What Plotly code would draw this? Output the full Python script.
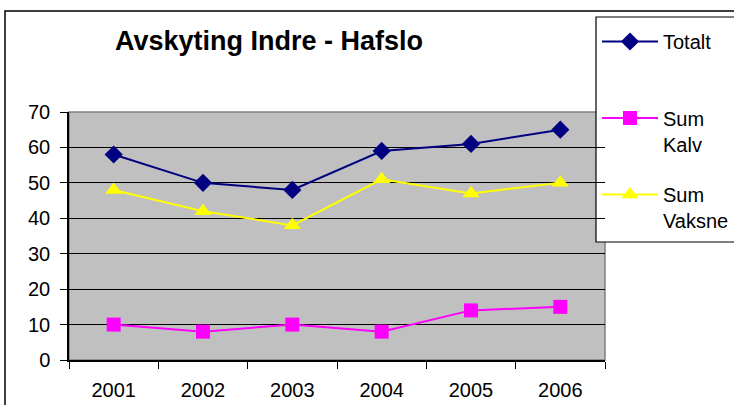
import plotly.graph_objects as go

years = ["2001", "2002", "2003", "2004", "2005", "2006"]
totalt = [58, 50, 48, 59, 61, 65]
sum_kalv = [10, 8, 10, 8, 14, 15]
sum_vaksne = [48, 42, 38, 51, 47, 50]
y_ticks = [0, 10, 20, 30, 40, 50, 60, 70]

W, H = 734, 405
L, R, T, B = 69, 605, 112, 360

def px(x):
    return (x - L) / (R - L)

def py(y):
    return (B - y) / (B - T)

fig = go.Figure()
fig.add_trace(go.Scatter(x=years, y=totalt, name="Totalt<br> ", mode="lines+markers",
                         line=dict(color="#000080", width=2),
                         marker=dict(symbol="diamond", size=14, color="#000080"),
                         legendgroup="a"))
fig.add_trace(go.Scatter(x=years, y=sum_kalv, name="Sum<br>Kalv", mode="lines+markers",
                         line=dict(color="#FF00FF", width=2),
                         marker=dict(symbol="square", size=14, color="#FF00FF"),
                         legendgroup="b"))
fig.add_trace(go.Scatter(x=years, y=sum_vaksne, name="Sum<br>Vaksne", mode="lines+markers",
                         line=dict(color="#FFFF00", width=2),
                         marker=dict(symbol="triangle-up", size=15, color="#FFFF00"),
                         legendgroup="c"))

font = "Liberation Sans, Arial, sans-serif"

fig.update_layout(
    width=W, height=H,
    margin=dict(l=L, r=W - R, t=T, b=H - B, pad=0, autoexpand=False),
    paper_bgcolor="white",
    plot_bgcolor="#C0C0C0",
    font=dict(family=font, size=20, color="black"),
    title=dict(text="<b>Avskyting Indre - Hafslo</b>", x=115 / W, xanchor="left",
               y=1 - 41 / H, yanchor="middle", font=dict(size=27, family=font, color="black")),
    showlegend=True,
    legend=dict(x=px(597), y=py(22), xanchor="left", yanchor="top",
                bgcolor="rgba(0,0,0,0)", borderwidth=0, tracegroupgap=21.5,
                valign="top", font=dict(size=20, family=font, color="black"),
                itemwidth=56, traceorder="grouped", maxheight=380),
    xaxis=dict(type="category", range=[-0.5, 5.5], tickson="boundaries", showgrid=False,
               showline=True, linecolor="black", linewidth=1.5,
               ticks="outside", ticklen=7, tickcolor="black", ticklabelstandoff=11,
               tickfont=dict(size=20, family=font), fixedrange=True),
    yaxis=dict(range=[0, 70], tickvals=y_ticks, showgrid=True, gridcolor="black", gridwidth=1,
               showline=True, linecolor="black", linewidth=1.5, zeroline=False,
               ticks="outside", ticklen=7, tickcolor="black", ticklabelstandoff=6,
               tickfont=dict(size=20, family=font), fixedrange=True),
    shapes=[
        dict(type="rect", xref="paper", yref="paper", x0=0, x1=1, y0=0, y1=1,
             line=dict(color="#808080", width=1.5), layer="below"),
        dict(type="rect", xref="paper", yref="paper", x0=px(5), x1=px(760), y0=py(430), y1=py(11),
             line=dict(color="black", width=1.5)),
        dict(type="rect", xref="paper", yref="paper", x0=px(596), x1=px(760), y0=py(242), y1=py(17),
             line=dict(color="black", width=1.2), fillcolor="white", layer="below"),
    ],
)

fig.write_html("out.html", config={"displayModeBar": False},
               post_script="document.body.style.margin='0';")
